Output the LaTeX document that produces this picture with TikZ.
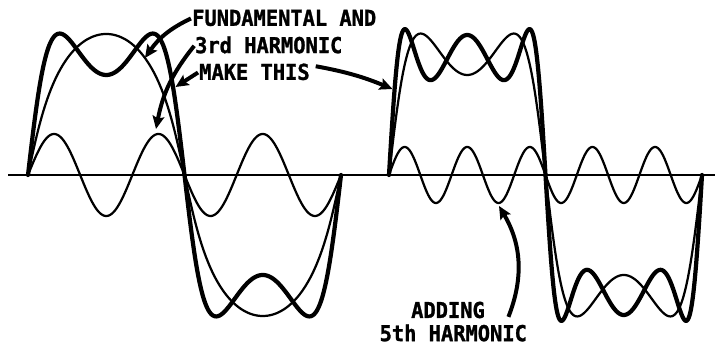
\documentclass[tikz,border=0pt]{standalone}
\usepackage{fontspec}
\newfontfamily\letterfont{DejaVu Sans Mono}[FakeStretch=0.93,FakeBold=1.2]
\usetikzlibrary{arrows.meta,positioning}
% squeeze of the time axis, so the arches look fuller
\tikzset{declare function={wx(\p,\q)=\p/180-\q*sin(2*\p)/(2*pi);}}

\begin{document}
\begin{tikzpicture}[x=0.03cm, y=0.03cm, >={Stealth[length=11pt,width=10pt,inset=2pt]},
  wave/.style={line width=1.9pt,line join=round},
  sumwave/.style={line width=3.6pt,line join=round,line cap=round},
  axisline/.style={line width=1.6pt},
  pointer/.style={line width=3.4pt,->,shorten <=1pt},
  lbl/.style={font=\letterfont\bfseries\fontsize{18.7}{22}\selectfont,inner sep=0pt}]
  \useasboundingbox (0,0) rectangle (719,348);
  % time axis
  \draw[axisline] (8,173) -- (715,173);
  % fundamental plus 3rd harmonic
  \begin{scope}[shift={(28,173)}]
    \draw[wave] plot[domain=0:360,samples=361] ({156.5*wx(\x,0.4)},{141*sin(\x)});
    \draw[wave] plot[domain=0:360,samples=361] ({156.5*wx(\x,0)},{41*sin(3*\x)});
    \draw[sumwave] plot[domain=0:360,samples=361] ({156.5*wx(\x,0.3)},{150*(sin(\x)+sin(3*\x)/3)});
    \coordinate (fundpt) at (117,117);
    \coordinate (thirdpt) at (128,46);
    \coordinate (sumpt) at (147.5,88);
  \end{scope}
  % adding the 5th harmonic
  \begin{scope}[shift={(389,173)}]
    \draw[wave] plot[domain=0:360,samples=361] ({156.5*wx(\x,0.3)},{150*(sin(\x)+sin(3*\x)/3)});
    \draw[wave] plot[domain=0:360,samples=361] ({156.5*wx(\x,0)},{28*sin(5*\x)});
    \draw[sumwave] plot[domain=0:360,samples=361] ({156.5*wx(\x,0.4)},{150*(sin(\x)+sin(3*\x)/3)+40*sin(5*\x)});
    \coordinate (edgept) at (3.5,86);
    \coordinate (fifthpt) at (110,-31);
  \end{scope}
  % labels
  \node[lbl,anchor=west] (fund) at (192,330) {FUNDAMENTAL AND};
  \node[lbl,below=23pt of fund.west,anchor=west,xshift=2.5pt] (harm) {3rd HARMONIC};
  \node[lbl,below=23pt of harm.west,anchor=west,xshift=3.5pt] (make) {MAKE THIS};
  \node[lbl] (add1) at (448,38) {ADDING};
  \node[lbl,below=19.6pt of add1.center,anchor=center,xshift=4.5pt] (add2) {5th HARMONIC};
  % pointers
  \draw[pointer] (fund.west) to[bend right=15] (fundpt);
  \draw[pointer] (harm.west) to[bend right=14] (thirdpt);
  \draw[pointer] (make.west) -- (sumpt);
  \draw[pointer] ([shift={(4pt,5pt)}]make.east) to[bend left=6] (edgept);
  \draw[pointer] ([shift={(19.6pt,-6.8pt)}]add1.east) to[bend right=26] (fifthpt);
\end{tikzpicture}
\end{document}
